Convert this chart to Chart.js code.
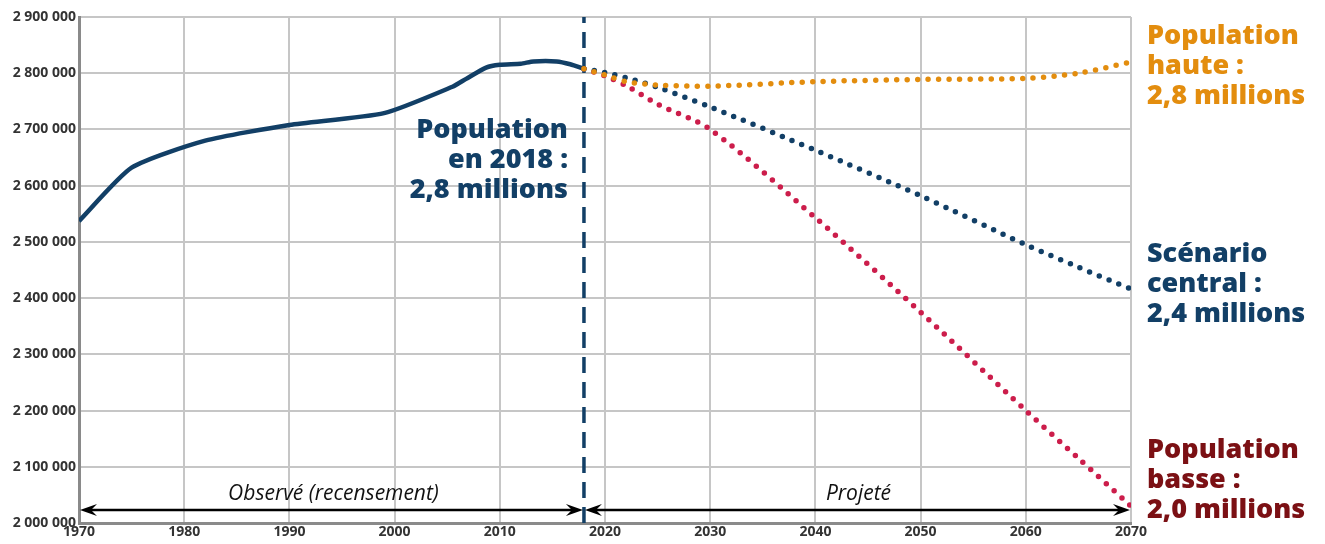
<!DOCTYPE html>
<html>
<head>
<meta charset="utf-8">
<script src="https://cdn.jsdelivr.net/npm/chart.js@4.4.1/dist/chart.umd.min.js"></script>
<style>
  html, body { margin: 0; padding: 0; background: #fff; }
  #wrap { width: 1325px; height: 544px; }
</style>
</head>
<body>
<div id="wrap"><canvas id="popChart"></canvas></div>
<script>
// observed population (census)
const obs_years  = [1970, 1975, 1982, 1990, 1999, 2005.5, 2006.8, 2008.7, 2010, 2012, 2013.2, 2015.4, 2016.7, 2018];
const obs_values = [2537000, 2632000, 2680000, 2708000, 2729000, 2776000, 2790000, 2810000, 2815000, 2817000, 2821000, 2821000, 2816000, 2808000];

// projections
const proj_years   = [2018, 2020, 2022, 2025, 2030, 2040, 2050, 2060, 2065, 2070];
const high_values  = [2808000, 2797000, 2785000, 2779000, 2777000, 2785000, 2789000, 2791000, 2800000, 2820000];
const central_vals = [2808000, 2801000, 2792000, 2775000, 2740000, 2663000, 2582000, 2495000, 2455000, 2416000];
const low_values   = [2808000, 2795000, 2778000, 2745000, 2700000, 2543000, 2375000, 2200000, 2115000, 2030000];

const ref_year = 2018;
const y_min = 2000000, y_max = 2900000;

const high_label    = ['Population', 'haute :', '2,8 millions'];
const central_label = ['Scénario', 'central :', '2,4 millions'];
const low_label     = ['Population', 'basse :', '2,0 millions'];
const ref_label     = ['Population', 'en 2018 :', '2,8 millions'];

const navy = '#123f66';
const orange = '#e38d0e';
const crimson = '#cc1d4b';
const darkred = '#7b1014';

const toPoints = function(xs, ys) {
	return xs.map((v, i) => ({ x: v, y: ys[i] }));
};

const fmt = function(v) {
	return String(v).replace(/\B(?=(\d{3})+(?!\d))/g, ' ');
};

const drawHead = function(ctx, tx, ty, dir) {
	ctx.beginPath();
	ctx.moveTo(tx, ty);
	ctx.lineTo(tx - dir * 17, ty - 6);
	ctx.lineTo(tx - dir * 11, ty);
	ctx.lineTo(tx - dir * 17, ty + 6);
	ctx.closePath();
	ctx.fill();
};

const drawLines = function(ctx, lines, x, y0, step, color, align) {
	ctx.fillStyle = color;
	ctx.textAlign = align;
	lines.forEach((t, i) => ctx.fillText(t, x, y0 + i * step));
};

const annotations = {
	id: 'annotations',
	afterDatasetsDraw(chart) {
		const { ctx, chartArea, scales: { x, y } } = chart;
		const xRef = x.getPixelForValue(ref_year);
		const xL = x.getPixelForValue(1970), xR = x.getPixelForValue(2070);
		const yArr = y.getPixelForValue(2023000);
		ctx.save();
		// period arrows
		ctx.strokeStyle = '#000';
		ctx.fillStyle = '#000';
		ctx.lineWidth = 2.5;
		ctx.beginPath();
		ctx.moveTo(xL + 10, yArr); ctx.lineTo(xRef - 10, yArr);
		ctx.moveTo(xRef + 10, yArr); ctx.lineTo(xR - 10, yArr);
		ctx.stroke();
		drawHead(ctx, xL + 1, yArr, -1);
		drawHead(ctx, xRef - 1, yArr, 1);
		drawHead(ctx, xRef + 1, yArr, -1);
		drawHead(ctx, xR - 1, yArr, 1);

		ctx.font = 'italic 21px "Open Sans"';
		ctx.textBaseline = 'alphabetic';
		ctx.textAlign = 'center';
		ctx.fillStyle = '#111';
		ctx.fillText('Observé (recensement)', (xL + xRef) / 2 + 2, yArr - 10);
		ctx.fillText('Projeté', (xRef + xR) / 2 + 1, yArr - 10);

		// scenario labels
		ctx.font = '800 27px "Open Sans"';
		ctx.textBaseline = 'middle';
		drawLines(ctx, ref_label, xRef - 16, 130, 30, navy, 'right');
		const xt = chartArea.right + 16;
		drawLines(ctx, high_label, xt, 36, 30, orange, 'left');
		drawLines(ctx, central_label, xt, 254, 30, navy, 'left');
		drawLines(ctx, low_label, xt, 450, 30, darkred, 'left');
		ctx.restore();
	}
};

const dotted = {
	borderWidth: 5.5,
	borderDash: [0, 10.5],
	borderCapStyle: 'round',
	pointRadius: 0,
	fill: false,
	tension: 0.3
};

new Chart(document.getElementById('popChart'), {
	type: 'line',
	data: {
		datasets: [
			Object.assign({ label: 'haute', data: toPoints(proj_years, high_values), borderColor: orange }, dotted),
			Object.assign({ label: 'central', data: toPoints(proj_years, central_vals), borderColor: navy }, dotted),
			Object.assign({ label: 'basse', data: toPoints(proj_years, low_values), borderColor: crimson }, dotted),
			{
				label: 'observé',
				data: toPoints(obs_years, obs_values),
				borderColor: navy,
				borderWidth: 4.5,
				pointRadius: 0,
				tension: 0.2,
				borderJoinStyle: 'round'
			},
			{
				label: '2018',
				data: toPoints([ref_year, ref_year], [y_min, y_max]),
				borderColor: navy,
				borderWidth: 3.5,
				borderDash: [16, 9],
				pointRadius: 0
			}
		]
	},
	options: {
		responsive: true,
		maintainAspectRatio: false,
		animation: false,
		layout: { padding: { top: 17, right: 194, left: 0, bottom: 0 } },
		plugins: { legend: { display: false }, tooltip: { enabled: false } },
		scales: {
			x: {
				type: 'linear',
				min: 1970,
				max: 2070,
				afterFit(scale) { scale.height = 21; },
				ticks: {
					stepSize: 10,
					padding: 1,
					color: '#333',
					font: { family: 'Open Sans', size: 14, weight: 'bold' },
					callback: v => String(v)
				},
				grid: { color: '#c6c6c6', lineWidth: 2, drawTicks: false },
				border: { color: '#8a8a8a', width: 3 }
			},
			y: {
				min: y_min,
				max: y_max,
				afterFit(scale) { scale.width = 79; },
				ticks: {
					stepSize: 100000,
					padding: 3,
					color: '#333',
					font: { family: 'Open Sans', size: 14, weight: 'bold' },
					callback: v => fmt(v)
				},
				grid: { color: '#c6c6c6', lineWidth: 2, drawTicks: false },
				border: { color: '#8a8a8a', width: 3 }
			}
		}
	},
	plugins: [annotations]
});
</script>
</body>
</html>
